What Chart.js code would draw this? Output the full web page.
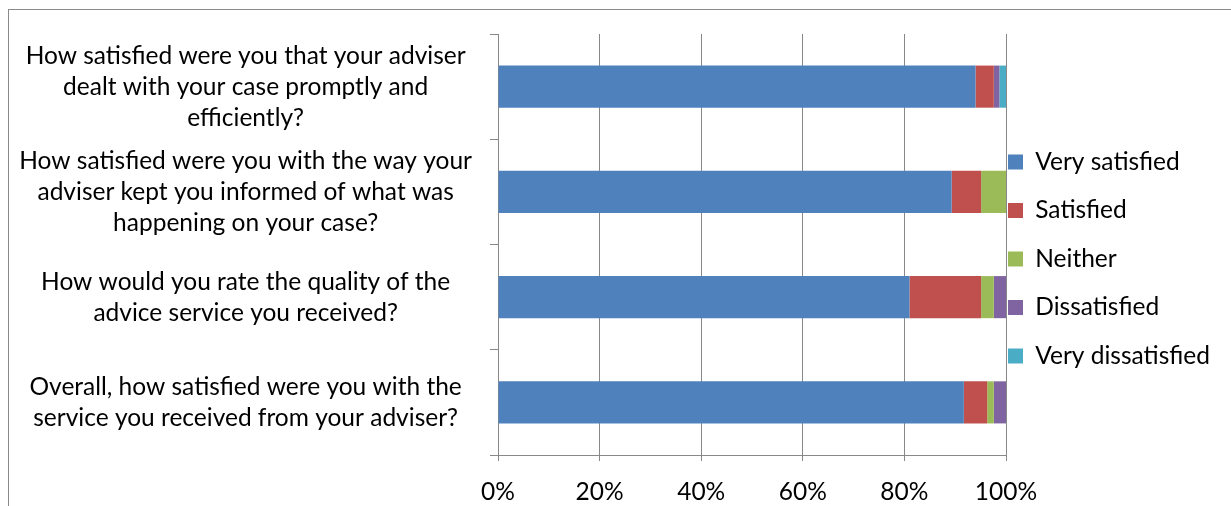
<!DOCTYPE html>
<html>
<head>
<meta charset="utf-8">
<script src="https://cdn.jsdelivr.net/npm/chart.js@4/dist/chart.umd.min.js"></script>
<style>
  html, body { margin: 0; padding: 0; background: #fff; overflow: hidden; }
  #frame { position: absolute; left: 8px; top: 9px; width: 1400px; height: 700px;
           border-left: 1px solid #8a8a8a; border-top: 1px solid #8a8a8a; }
  #wrap { position: absolute; left: 0; top: 0; width: 1231px; height: 506px; }
</style>
</head>
<body>
<div id="frame"></div>
<div id="wrap"><canvas id="c" width="1231" height="506"></canvas></div>
<script>
const categories = [
  ["How satisfied were you that your adviser", "dealt with your case promptly and", "efficiently?"],
  ["How satisfied were you with the way your", "adviser kept you informed of what was", "happening on your case?"],
  ["How would you rate the quality of the", "advice service you received?"],
  ["Overall, how satisfied were you with the", "service you received from your adviser?"]
];
const seriesNames = ["Very satisfied", "Satisfied", "Neither", "Dissatisfied", "Very dissatisfied"];
const verySatisfied    = [94.0, 89.3, 81.0, 91.7];
const satisfied        = [3.6, 5.8, 14.1, 4.6];
const neither          = [0, 4.9, 2.5, 1.3];
const dissatisfied     = [1.1, 0, 2.4, 2.4];
const veryDissatisfied = [1.3, 0, 0, 0];
const xTicks = [0, 20, 40, 60, 80, 100];

const colors = ["#4F81BD", "#C0504D", "#9BBB59", "#8064A2", "#4BACC6"];
const seriesData = [verySatisfied, satisfied, neither, dissatisfied, veryDissatisfied];
const FONT = "Lato";
const FSIZE = 24.5;
const gridColor = "#888888";

const legendShift = {
  id: "legendShift",
  afterLayout(chart) {
    const lg = chart.legend;
    if (lg) { lg.left -= 22; lg.right -= 22; }
  }
};

new Chart(document.getElementById("c"), {
  type: "bar",
  data: {
    labels: categories,
    datasets: seriesNames.map((n, i) => ({
      label: n,
      data: seriesData[i],
      backgroundColor: colors[i],
      borderWidth: 0,
      barPercentage: 0.4,
      categoryPercentage: 1.0
    }))
  },
  plugins: [legendShift],
  options: {
    indexAxis: "y",
    responsive: false,
    animation: false,
    layout: { padding: 0 },
    scales: {
      x: {
        stacked: true,
        min: 0, max: 100,
        afterBuildTicks: (axis) => { axis.ticks = xTicks.map(v => ({ value: v })); },
        afterFit: (axis) => { axis.height = 51; },
        grid: { color: gridColor, lineWidth: 1, tickLength: 6, drawOnChartArea: true },
        border: { color: gridColor, width: 1 },
        ticks: {
          color: "#000",
          font: { family: FONT, size: FSIZE },
          padding: 16,
          maxRotation: 0,
          callback: (v) => v + "%"
        }
      },
      y: {
        stacked: true,
        afterFit: (axis) => { axis.width = 498; axis.paddingTop = 34; axis.paddingBottom = 0; },
        grid: { color: gridColor, lineWidth: 1, tickLength: 8, drawOnChartArea: false, offset: true },
        border: { color: gridColor, width: 1 },
        ticks: {
          color: "#000",
          crossAlign: "center",
          padding: 18,
          font: { family: FONT, size: FSIZE, lineHeight: 31 / FSIZE }
        }
      }
    },
    plugins: {
      tooltip: { enabled: false },
      legend: {
        position: "right",
        maxWidth: 225,
        title: { display: true, text: " ", font: { size: 12, lineHeight: 1 }, padding: 0 },
        labels: {
          boxWidth: 15,
          boxHeight: 15,
          padding: 24,
          color: "#000",
          font: { family: FONT, size: FSIZE }
        }
      }
    }
  }
});
</script>
</body>
</html>
